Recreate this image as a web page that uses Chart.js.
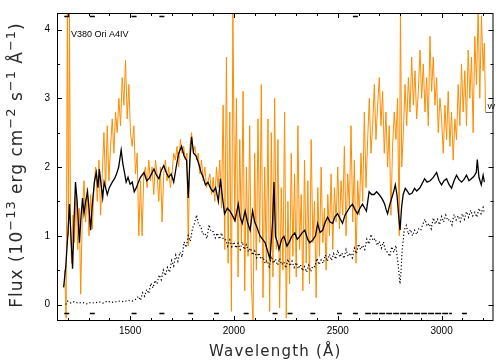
<!DOCTYPE html>
<html>
<head>
<meta charset="utf-8">
<script src="https://cdn.jsdelivr.net/npm/chart.js@4.4.7/dist/chart.umd.min.js"></script>
<style>
  html, body { margin: 0; padding: 0; background: #fff; }
  #wrap { width: 499px; height: 364px; }
</style>
</head>
<body>
<div id="wrap"><canvas id="chart" width="499" height="364"></canvas></div>
<script>
// V380 Ori (A4IV) — UV spectrum, flux in 1e-13 erg cm-2 s-1 A-1

// black solid spectrum
const solidWave = [1180,1190,1200,1208,1215,1223,1230,1237,1245,1256,1263,1271,1278,1286,1295,1302,1310,1318,1328,1337,
  1345,1352,1360,1368,1375,1382,1390,1400,1414,1425,1435,1445,1457,1465,1473,1481,1490,1500,1510,1520,
  1530,1540,1550,1567,1580,1591,1603,1615,1627,1639,1650,1662,1674,1686,1698,1710,1722,1734,1748,1760,
  1772,1780,1788,1796,1806,1818,1830,1842,1852,1863,1875,1888,1900,1912,1925,1935,1945,1955,1968,1980,
  1992,2005,2021,2030,2040,2054,2065,2078,2090,2100,2110,2125,2150,2165,2174,2186,2193,2200,2210,2217,
  2230,2241,2255,2265,2280,2293,2305,2317,2330,2341,2355,2365,2380,2393,2403,2415,2427,2440,2451,2463,
  2475,2487,2499,2511,2523,2535,2547,2559,2571,2583,2595,2607,2619,2630,2638,2651,2663,2675,2687,2699,
  2711,2720,2726,2733,2740,2750,2760,2770,2777,2785,2793,2800,2807,2815,2825,2835,2845,2858,2870,2880,
  2894,2905,2918,2930,2945,2960,2976,2988,3000,3012,3024,3035,3048,3060,3072,3083,3096,3108,3120,3132,
  3143,3155,3167,3172,3180,3191,3200,3206];
const solidFlux = [0.25,0.55,1.0,1.46,1.0,0.52,1.2,1.78,1.5,0.9,1.25,1.55,1.32,1.5,1.64,1.4,1.08,1.45,1.78,1.92,
  1.7,1.97,1.75,1.55,1.78,1.7,1.6,1.7,1.78,1.83,1.9,2.0,2.25,2.05,1.92,1.78,1.85,1.75,1.78,1.64,
  1.7,1.78,1.85,1.92,1.8,1.83,1.9,1.97,1.88,1.83,1.95,2.02,1.92,1.85,1.9,1.78,2.0,2.2,2.3,2.16,
  2.1,1.55,2.1,2.44,2.2,2.16,2.05,1.92,1.85,1.74,1.78,1.69,1.64,1.7,1.5,1.83,1.55,1.32,1.4,1.36,
  1.3,1.22,1.46,1.27,1.18,1.36,1.2,1.08,1.36,1.2,1.13,1.0,0.9,0.75,0.66,1.2,1.78,0.99,0.9,0.8,
  0.95,0.99,0.85,0.9,1.0,1.04,0.95,0.99,1.05,1.08,0.95,0.9,0.94,1.0,1.18,1.05,1.08,1.2,1.27,1.2,
  1.18,1.28,1.32,1.25,1.18,1.3,1.36,1.42,1.46,1.38,1.32,1.4,1.46,1.4,1.36,1.64,1.6,1.6,1.64,1.6,
  1.55,1.5,1.46,1.38,1.32,1.45,1.55,1.65,1.74,1.6,1.3,1.08,1.4,1.6,1.69,1.65,1.6,1.62,1.69,1.65,
  1.69,1.75,1.83,1.78,1.8,1.85,1.92,1.8,1.74,1.8,1.83,1.75,1.69,1.8,1.88,1.82,1.78,1.82,1.88,1.8,
  1.83,1.86,1.92,2.11,1.85,1.74,1.88,1.78];

// dotted spectrum
const dotWave = [1190,1200,1215,1230,1250,1270,1290,1310,1330,1350,1370,1390,1410,1430,1450,1470,1490,1510,1530,
  1540,1550,1560,1570,1580,1590,1600,1610,1620,1630,1640,1650,1660,1670,1680,1690,1700,1710,1720,1730,
  1740,1750,1760,1770,1780,1790,1800,1810,1820,1830,1840,1850,1860,1870,1880,1890,1900,1910,1920,1930,
  1940,1950,1960,1970,1980,1990,2000,2010,2020,2030,2040,2050,2060,2070,2080,2090,2100,2110,2120,2130,
  2140,2150,2160,2170,2180,2190,2200,2210,2220,2230,2240,2250,2260,2270,2280,2290,2300,2310,2320,2330,
  2340,2350,2360,2370,2380,2390,2400,2410,2420,2430,2440,2450,2460,2470,2480,2490,2500,2510,2520,2530,
  2540,2550,2560,2570,2580,2590,2600,2610,2620,2630,2640,2650,2660,2670,2680,2690,2700,2710,2720,2730,
  2740,2750,2760,2770,2780,2790,2795,2800,2805,2810,2820,2830,2840,2850,2860,2870,2880,2890,2900,2910,
  2920,2930,2940,2950,2960,2970,2980,2990,3000,3010,3020,3030,3040,3050,3060,3070,3080,3090,3100,3110,
  3120,3130,3140,3150,3160,3170,3180,3190,3200,3205];
const dotFlux = [0.0,0.05,0.02,0.04,0.02,0.03,0.01,0.03,0.02,0.04,0.02,0.05,0.03,0.04,0.05,0.04,0.06,0.05,0.08,
  0.12,0.06,0.17,0.12,0.22,0.16,0.31,0.24,0.35,0.3,0.43,0.36,0.5,0.42,0.54,0.47,0.64,0.56,0.72,0.63,
  0.76,0.69,0.91,0.83,1.0,0.92,1.1,1.18,1.3,1.16,1.14,1.02,1.04,0.96,1.16,1.06,1.06,0.97,1.04,0.95,
  1.04,0.94,0.94,0.85,0.94,0.84,0.91,0.82,0.89,0.8,0.91,0.8,0.87,0.77,0.82,0.72,0.78,0.68,0.75,0.66,
  0.69,0.6,0.64,0.55,0.7,0.6,0.66,0.57,0.67,0.58,0.62,0.53,0.66,0.56,0.63,0.54,0.61,0.52,0.58,0.49,
  0.55,0.47,0.57,0.48,0.56,0.55,0.67,0.58,0.65,0.6,0.72,0.63,0.73,0.64,0.74,0.66,0.79,0.69,0.75,0.67,
  0.8,0.7,0.75,0.68,0.82,0.74,0.88,0.8,0.86,0.8,0.95,0.88,1.02,0.93,0.96,0.86,0.92,0.82,0.91,0.78,
  0.76,0.7,0.84,0.76,0.86,0.6,0.45,0.3,0.5,0.78,1.08,1.15,1.02,1.09,1.0,1.08,1.02,1.1,1.08,1.17,
  1.24,1.14,1.18,1.1,1.26,1.17,1.24,1.16,1.28,1.2,1.3,1.22,1.24,1.16,1.31,1.23,1.29,1.21,1.32,1.24,
  1.35,1.27,1.37,1.29,1.34,1.27,1.4,1.32,1.41,1.34];

// orange (noisy) spectrum
const orangeWave = [1185,1192,1198,1203,1208,1213,1218,1225,1232,1240,1248,1255,1262,1270,1278,1286,1294,1302,1310,1318,
  1326,1334,1342,1350,1358,1366,1374,1382,1390,1398,1406,1414,1422,1430,1438,1446,1454,1462,1470,1478,
  1486,1494,1502,1510,1518,1526,1534,1542,1550,1558,1566,1574,1582,1590,1598,1606,1614,1622,1630,1638,
  1646,1654,1662,1670,1678,1686,1694,1702,1710,1718,1726,1734,1742,1750,1758,1766,1774,1780,1788,1796,
  1804,1812,1820,1828,1836,1844,1852,1860,1868,1876,1884,1892,1900,1908,1916,1924,1932,1940,1948,1956,
  1964,1972,1980,1988,1995,2004,2012,2020,2028,2036,2044,2052,2060,2068,2076,2084,2092,2100,2108,2116,
  2124,2132,2140,2148,2156,2164,2172,2180,2188,2196,2204,2212,2220,2228,2236,2244,2252,2260,2268,2276,
  2284,2292,2300,2308,2316,2324,2332,2340,2348,2356,2364,2372,2380,2388,2396,2404,2412,2420,2428,2436,
  2444,2452,2460,2468,2476,2484,2492,2500,2508,2516,2524,2532,2540,2548,2556,2564,2572,2580,2588,2596,
  2604,2612,2620,2628,2636,2644,2652,2660,2668,2676,2684,2692,2700,2708,2716,2724,2732,2740,2748,2756,
  2764,2772,2780,2788,2796,2802,2808,2816,2824,2832,2840,2848,2856,2864,2872,2880,2888,2896,2904,2912,
  2920,2928,2936,2944,2952,2960,2968,2976,2984,2992,3000,3008,3016,3024,3032,3040,3048,3056,3064,3072,
  3080,3088,3096,3104,3112,3120,3128,3136,3144,3152,3160,3168,3176,3184,3192,3200,3206,3212];
const orangeFlux = [0.5,-0.2,4.3,1.0,4.3,1.2,0.6,1.3,0.9,1.6,0.8,1.4,0.15,1.3,1.8,1.2,1.7,1.0,1.6,1.1,
  1.7,2.0,1.5,2.1,1.3,1.9,2.5,1.7,2.6,1.8,2.3,2.7,2.2,2.8,2.5,3.0,2.6,3.3,2.9,3.55,
  2.7,3.2,2.5,2.3,2.6,1.9,2.2,1.0,1.8,1.0,1.9,2.0,1.7,2.1,1.8,2.0,1.6,2.1,1.9,1.5,
  2.0,1.2,1.9,2.1,1.8,2.0,1.7,1.9,2.2,2.1,2.3,2.0,2.4,2.2,2.3,2.1,2.2,0.85,2.3,2.5,
  2.2,2.3,2.1,2.2,1.9,2.1,1.8,2.0,1.7,1.8,1.9,1.6,1.85,1.5,2.0,1.7,2.1,1.4,2.9,0.8,
  3.6,0.6,2.8,-0.1,4.3,1.2,3.0,0.4,2.4,0.9,3.1,0.2,2.0,0.7,2.6,0.3,-0.25,2.2,0.5,2.7,
  0.9,3.2,0.1,2.0,0.6,2.7,-0.1,2.5,0.4,3.0,0.8,2.4,-0.05,1.7,0.5,2.8,-0.2,1.5,0.3,2.2,
  0.7,1.9,0.4,2.6,0.8,1.6,0.2,2.1,0.6,1.8,0.3,2.4,0.9,1.5,0.1,1.7,0.7,2.0,0.9,1.4,
  0.5,1.6,1.0,1.9,0.8,1.7,1.2,2.0,1.1,1.8,1.3,2.3,1.0,1.9,1.4,2.6,1.2,2.1,0.6,1.8,
  1.3,2.2,1.5,2.8,1.7,2.4,3.0,2.2,2.6,3.2,2.4,2.9,3.3,2.6,3.1,2.2,2.8,2.0,2.6,1.3,
  2.3,2.8,2.4,3.0,1.0,4.3,2.0,2.5,3.2,2.6,3.3,2.8,3.6,2.9,3.4,2.7,3.1,3.7,3.0,3.5,
  2.8,3.3,2.6,3.9,3.1,3.6,2.9,3.3,2.5,3.0,2.7,2.2,2.9,2.4,3.1,2.3,2.8,2.1,2.7,2.4,
  3.2,2.6,3.5,2.8,3.4,2.6,3.7,3.0,3.6,2.5,3.9,3.2,4.3,3.0,4.2,3.4,3.8,2.8];

// bad-pixel flags along the bottom and top of the frame
const flagWave = [1195,1318,1519,1653,1792,1916,2059,2198,2270,2380,2508,2585,3110];
const flagTopWave = [1195,1318,1519,1653,2585];
const flagBand = [2632,3050];
const flagLow = -0.13;
const flagHigh = 4.19;
const wMarkWave = [3212,3250];
const wMarkFlux = 2.8;

// axes
const xRange = [1148, 3250];
const yRange = [-0.24, 4.24];
const xTickLabels = [1500, 2000, 2500, 3000];
const xMinorTicks = [1200,1300,1400,1500,1600,1700,1800,1900,2000,2100,2200,2300,2400,2500,2600,2700,2800,2900,3000,3100,3200];
const yTickLabels = [0, 1, 2, 3, 4];
const yMinorTicks = [0, 0.5, 1, 1.5, 2, 2.5, 3, 3.5, 4];
const xTitle = 'Wavelength (Å)';
// y title pieces: [text, superscript?]
const yTitle = [['Flux (10', false], ['−13', true], [' erg cm', false], ['−2', true], [' s', false],
  ['−1', true], [' Å', false], ['−1', true], [')', false]];

const zip = (xs, ys) => xs.map((v, i) => ({ x: v, y: ys[i] }));

const txtFont = "'Liberation Sans', Arial, sans-serif";
const titleFont = "'DejaVu Sans', sans-serif";

// frame with inward ticks on all four sides, plus labels inside the plot
const frameTicks = {
    id: 'frameTicks',
    afterDatasetsDraw(chart) {
        const { ctx, chartArea: a, scales: { x, y } } = chart;
        ctx.save();
        ctx.strokeStyle = '#000';
        ctx.lineWidth = 1;
        ctx.strokeRect(a.left + 0.5, a.top + 0.5, a.right - a.left - 1, a.bottom - a.top - 1);
        ctx.beginPath();
        xMinorTicks.forEach(v => {
            const px = Math.round(x.getPixelForValue(v)) + 0.5;
            const len = xTickLabels.includes(v) ? 5 : 3;
            ctx.moveTo(px, a.bottom); ctx.lineTo(px, a.bottom - len);
            ctx.moveTo(px, a.top); ctx.lineTo(px, a.top + len);
        });
        yMinorTicks.forEach(v => {
            const py = Math.round(y.getPixelForValue(v)) + 0.5;
            const len = yTickLabels.includes(v) ? 5 : 3;
            ctx.moveTo(a.left, py); ctx.lineTo(a.left + len, py);
            ctx.moveTo(a.right, py); ctx.lineTo(a.right - len, py);
        });
        ctx.stroke();

        // "W" marker on the right edge
        const wy = Math.round(y.getPixelForValue(wMarkFlux)) + 0.5;
        ctx.strokeStyle = '#555';
        ctx.beginPath();
        ctx.moveTo(x.getPixelForValue(wMarkWave[0]), wy);
        ctx.lineTo(x.getPixelForValue(wMarkWave[1]), wy);
        ctx.stroke();
        ctx.fillStyle = '#000';
        ctx.font = "8px " + txtFont;
        ctx.textAlign = 'left';
        ctx.textBaseline = 'alphabetic';
        ctx.fillText('W', x.getPixelForValue(wMarkWave[0]) + 2, wy - 4);

        // star label
        ctx.font = "9px 'Liberation Sans Narrow', " + txtFont;
        ctx.fillText('V380 Ori A4IV', a.left + 14, a.top + 24);
        ctx.restore();
    },
    // axis titles, drawn by hand so the y title can carry real superscripts
    afterDraw(chart) {
        const { ctx, chartArea: a } = chart;
        ctx.save();
        ctx.fillStyle = '#2a2a2a';
        ctx.textBaseline = 'alphabetic';
        if ('letterSpacing' in ctx) ctx.letterSpacing = '1.2px';
        ctx.font = '15px ' + titleFont;
        ctx.textAlign = 'center';
        ctx.fillText(xTitle, (a.left + a.right) / 2, 356);

        if ('letterSpacing' in ctx) ctx.letterSpacing = '1px';
        ctx.textAlign = 'left';
        const mainFont = '17px ' + titleFont, supFont = '13px ' + titleFont;
        const widths = yTitle.map(([t, sup]) => { ctx.font = sup ? supFont : mainFont; return ctx.measureText(t).width; });
        const total = widths.reduce((s, w) => s + w, 0);
        ctx.translate(22, (a.top + a.bottom) / 2 - 2);
        ctx.rotate(-Math.PI / 2);
        let pos = -total / 2;
        yTitle.forEach(([t, sup], i) => {
            ctx.font = sup ? supFont : mainFont;
            ctx.fillText(t, pos, sup ? -7 : 0);
            pos += widths[i];
        });
        ctx.restore();
    }
};

new Chart(document.getElementById('chart'), {
    type: 'line',
    data: {
        datasets: [{
            label: 'orange',
            data: zip(orangeWave, orangeFlux),
            borderColor: '#ff8c00',
            borderWidth: 1,
            pointRadius: 0,
            order: 5,
            clip: 0
        }, {
            label: 'solid',
            data: zip(solidWave, solidFlux),
            borderColor: '#000',
            borderWidth: 1.3,
            pointRadius: 0,
            order: 4,
            clip: 0
        }, {
            label: 'dotted',
            data: zip(dotWave, dotFlux),
            borderColor: '#000',
            borderWidth: 1.2,
            borderDash: [1.2, 2.2],
            pointRadius: 0,
            order: 3,
            clip: 0
        }, {
            label: 'flags',
            data: flagWave.map(v => ({ x: v, y: flagLow })).concat(flagTopWave.map(v => ({ x: v, y: flagHigh }))),
            showLine: false,
            pointStyle: 'line',
            pointRadius: 2.5,
            borderColor: '#000',
            borderWidth: 1.5,
            order: 2,
            clip: 0
        }, {
            label: 'band',
            data: flagBand.map(v => ({ x: v, y: flagLow })),
            borderColor: '#000',
            borderWidth: 1.5,
            borderDash: [6, 1],
            pointRadius: 0,
            order: 1,
            clip: 0
        }]
    },
    options: {
        responsive: false,
        animation: false,
        devicePixelRatio: 1,
        layout: { padding: { top: 1, right: 2, left: 0, bottom: 0 } },
        plugins: { legend: { display: false }, tooltip: { enabled: false } },
        elements: { line: { tension: 0 } },
        scales: {
            x: {
                type: 'linear',
                min: xRange[0], max: xRange[1],
                afterBuildTicks: s => { s.ticks = xTickLabels.map(v => ({ value: v })); },
                afterFit: s => { s.height = 43; },
                grid: { display: false, drawTicks: false },
                border: { display: false },
                ticks: { color: '#000', padding: 4, maxRotation: 0, callback: v => String(v), font: { family: txtFont, size: 10 } },
                title: { display: false, text: xTitle }
            },
            y: {
                type: 'linear',
                min: yRange[0], max: yRange[1],
                afterBuildTicks: s => { s.ticks = yTickLabels.map(v => ({ value: v })); },
                afterFit: s => { s.width = 57; },
                grid: { display: false, drawTicks: false },
                border: { display: false },
                ticks: { color: '#000', padding: 7, callback: v => String(v), font: { family: txtFont, size: 10 } },
                title: { display: false, text: 'Flux (10^-13 erg cm^-2 s^-1 Å^-1)' }
            }
        }
    },
    plugins: [frameTicks]
});
</script>
</body>
</html>
